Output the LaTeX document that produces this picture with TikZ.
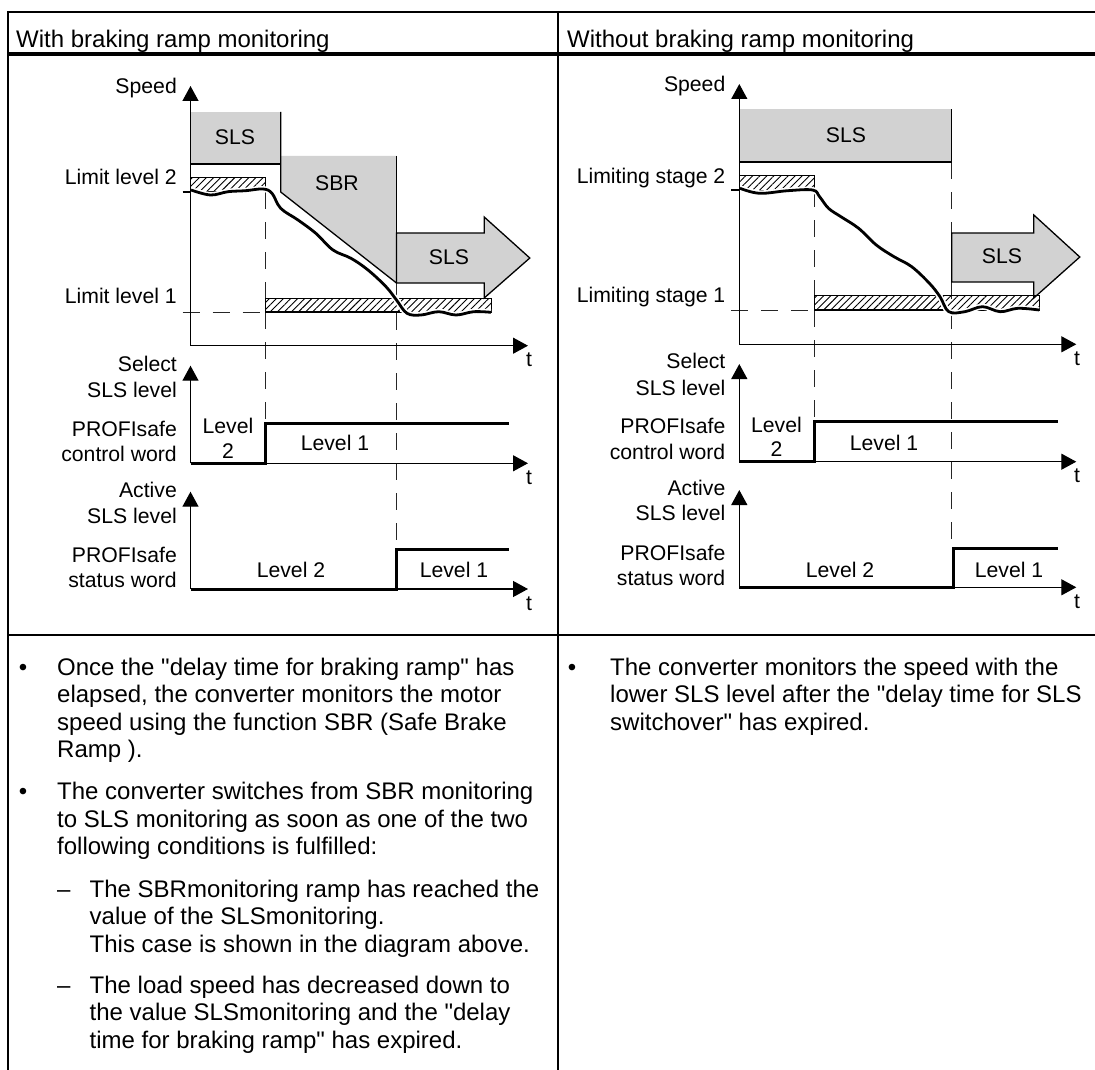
\documentclass[tikz,border=0pt]{standalone}
\usepackage{fontspec}
\setmainfont{Liberation Sans}[Ligatures=TeXOff]
\usetikzlibrary{arrows.meta,patterns.meta}

\newcommand\lblfont{\fontsize{21.2}{25}\selectfont}
\newcommand\txtfont{\fontsize{24}{27.6}\selectfont}

\begin{document}
\begin{tikzpicture}[
  x=1pt, y=-1pt,
  lbl/.style={font=\lblfont, inner sep=0pt, anchor=base east},
  lvl/.style={font=\lblfont, inner sep=0pt, anchor=base},
  zonetxt/.style={font=\lblfont, inner sep=0pt, anchor=center},
  body/.style={font=\txtfont, inner sep=0pt, anchor=base west},
  bullet/.style={font=\txtfont, inner sep=0pt, anchor=base},
  rule/.style={line width=2pt},
  axis/.style={line width=1.3pt, -{Triangle[length=15pt,width=16pt]}},
  signal/.style={line width=3pt},
  guide/.style={line width=0.9pt, dash pattern=on 17pt off 13pt, black!85},
  zone/.style={fill=gray!35},
  edge/.style={line width=1.3pt},
  hatch/.style={draw, line width=0.8pt,
                pattern={Lines[angle=45,distance=5pt,line width=0.9pt]}},
  halo/.style={white, line width=6pt},
  speed/.style={line width=2.8pt}
]
  \useasboundingbox (0,0) rectangle (1095,1070);

  % table
  \draw[rule] (7.5,12) -- (1095,12);
  \draw[line width=4.5pt] (7.5,54) -- (1095,54);
  \draw[rule] (7.5,635) -- (1095,635);
  \draw[rule] (7.5,11) -- (7.5,1070);
  \draw[rule] (558,11) -- (558,1070);
  \node[body] (hdL) at (16,47.5) {With braking ramp monitoring};
  \node[body] (hdR) at (567,47.5) {Without braking ramp monitoring};

  % ---------- left: with braking ramp monitoring ----------
  \draw[guide] (265.6,192) -- (265.6,423);
  \draw[guide] (396.5,283) -- (396.5,549);
  \fill[zone] (190.5,112) rectangle (280.7,164);
  \fill[zone] (280.7,156) -- (396.5,156) -- (396.5,283) -- (280.7,192) -- cycle;
  \draw[edge] (190.5,164) -- (280.7,164);
  \draw[edge] (280.7,112) -- (280.7,192) -- (396.5,283);
  \draw[edge] (396.5,156) -- (396.5,283);
  \draw[edge, zone] (396.5,233) -- (484.2,233) -- (484.2,217) -- (529.8,258)
    -- (484.2,298) -- (484.2,283) -- (396.5,283) -- cycle;
  \path[hatch] (190.5,177) rectangle (265.6,191);
  \path[hatch] (265.6,298) rectangle (491.2,312);
  \draw[edge] (182.5,192) -- (190.5,192);
  \draw[guide] (182.5,312) -- (265.6,312);
  \draw[line width=2.5pt] (265.6,312) -- (400,312);
  \draw[halo] plot[smooth, tension=0.6] coordinates {(191,190) (210.5,195) (228,191.7)
    (245.6,190.7) (263,189) (272,193.3) (280.7,208.3) (298,220) (315.8,233.3) (333,250)
    (351,258.3) (368,270) (386,286.7) (396.5,300) (407,313.3) (421,315) (438.6,311.7)
    (456,315) (473.7,311.7) (491,312.3)};
  \draw[speed] plot[smooth, tension=0.6] coordinates {(191,190) (210.5,195) (228,191.7)
    (245.6,190.7) (263,189) (272,193.3) (280.7,208.3) (298,220) (315.8,233.3) (333,250)
    (351,258.3) (368,270) (386,286.7) (396.5,300) (407,313.3) (421,315) (438.6,311.7)
    (456,315) (473.7,311.7) (491,312.3)};
  \draw[axis] (190.5,345.7) -- (190.5,86);
  \draw[axis] (190.5,345.7) -- (528,345.7);
  \draw[axis] (190.5,463.3) -- (190.5,365.7);
  \draw[axis] (190.5,463.3) -- (528,463.3);
  \draw[axis] (190.5,589) -- (190.5,491.7);
  \draw[axis] (190.5,589) -- (528,589);
  \draw[signal] (190.5,463.3) -- (265.6,463.3) -- (265.6,423.3) -- (508.8,423.3);
  \draw[signal] (190.5,589) -- (396.5,589) -- (396.5,549) -- (508.8,549);

  \node[zonetxt] (slsL) at (235,137) {SLS};
  \node[zonetxt] (sbrL) at (337,183) {SBR};
  \node[zonetxt] (arrL) at (449,257) {SLS};
  \node[lbl] (spdL) at (177,94) {Speed};
  \node[lbl] (lim2L) at (177,184) {Limit level 2};
  \node[lbl] (lim1L) at (177,303) {Limit level 1};
  \node[lbl] (selL) at (177,371) {Select};
  \node[lbl] (sel2L) at (177,397) {SLS level};
  \node[lbl] (ctlL) at (177,436) {PROFIsafe};
  \node[lbl] (ctl2L) at (177,461) {control word};
  \node[lbl] (actL) at (177,497) {Active};
  \node[lbl] (act2L) at (177,523) {SLS level};
  \node[lbl] (stsL) at (177,562) {PROFIsafe};
  \node[lbl] (sts2L) at (177,587) {status word};
  \node[lvl] (t1L) at (529,366.7) {t};
  \node[lvl] (t2L) at (529,484) {t};
  \node[lvl] (t3L) at (529,610) {t};
  \node[lvl] (c2L) at (228,433) {Level};
  \node[lvl] (c2bL) at (228,458) {2};
  \node[lvl] (c1L) at (335,450) {Level 1};
  \node[lvl] (s2L) at (291,577) {Level 2};
  \node[lvl] (s1L) at (454,577) {Level 1};

  % ---------- right: without braking ramp monitoring ----------
  \draw[guide] (814.3,190) -- (814.3,422);
  \draw[guide] (951.7,162) -- (951.7,548);
  \fill[zone] (739.3,109) rectangle (951.7,162);
  \draw[edge] (739.3,162) -- (951.7,162) -- (951.7,109);
  \draw[edge, zone] (951.7,233) -- (1033.8,233) -- (1033.8,215) -- (1079.8,257)
    -- (1033.8,298) -- (1033.8,282) -- (951.7,282) -- cycle;
  \path[hatch] (739.3,175) rectangle (814.3,190);
  \path[hatch] (814.3,295) rectangle (1039,310);
  \draw[edge] (731,190) -- (739.3,190);
  \draw[guide] (731,310) -- (814.3,310);
  \draw[line width=2.5pt] (814.3,310) -- (945,310);
  \draw[halo] plot[smooth, tension=0.6] coordinates {(740,188.3) (759.5,193.3)
    (787.8,190.7) (812.6,190) (819.6,196.7) (828.5,208.3) (840.9,216.7) (858.6,228.3)
    (876.3,245) (894,256.7) (911.7,266.7) (929.4,283.3) (940,296.7) (948.8,311.7)
    (964.8,311.7) (982.5,306.7) (1000.2,311.7) (1017.9,308.3) (1039,310)};
  \draw[speed] plot[smooth, tension=0.6] coordinates {(740,188.3) (759.5,193.3)
    (787.8,190.7) (812.6,190) (819.6,196.7) (828.5,208.3) (840.9,216.7) (858.6,228.3)
    (876.3,245) (894,256.7) (911.7,266.7) (929.4,283.3) (940,296.7) (948.8,311.7)
    (964.8,311.7) (982.5,306.7) (1000.2,311.7) (1017.9,308.3) (1039,310)};
  \draw[axis] (739.3,344.3) -- (739.3,84);
  \draw[axis] (739.3,344.3) -- (1076.3,344.3);
  \draw[axis] (739.3,461.7) -- (739.3,364);
  \draw[axis] (739.3,461.7) -- (1076.3,461.7);
  \draw[axis] (739.3,587.3) -- (739.3,490);
  \draw[axis] (739.3,587.3) -- (1076.3,587.3);
  \draw[signal] (739.3,461.7) -- (814.3,461.7) -- (814.3,421.7) -- (1057.5,421.7);
  \draw[signal] (739.3,587.3) -- (953.5,587.3) -- (953.5,548.3) -- (1057.5,548.3);

  \node[zonetxt] (slsR) at (846,135) {SLS};
  \node[zonetxt] (arrR) at (1002,256) {SLS};
  \node[lbl] (spdR) at (725.5,92) {Speed};
  \node[lbl] (lim2R) at (725.5,183) {Limiting stage 2};
  \node[lbl] (lim1R) at (725.5,302) {Limiting stage 1};
  \node[lbl] (selR) at (725.5,368) {Select};
  \node[lbl] (sel2R) at (725.5,395) {SLS level};
  \node[lbl] (ctlR) at (725.5,433) {PROFIsafe};
  \node[lbl] (ctl2R) at (725.5,459) {control word};
  \node[lbl] (actR) at (725.5,495) {Active};
  \node[lbl] (act2R) at (725.5,520) {SLS level};
  \node[lbl] (stsR) at (725.5,560) {PROFIsafe};
  \node[lbl] (sts2R) at (725.5,585) {status word};
  \node[lvl] (t1R) at (1077,365) {t};
  \node[lvl] (t2R) at (1077,482) {t};
  \node[lvl] (t3R) at (1077,608) {t};
  \node[lvl] (c2R) at (776.5,432.7) {Level};
  \node[lvl] (c2bR) at (776.5,456.7) {2};
  \node[lvl] (c1R) at (884,450) {Level 1};
  \node[lvl] (s2R) at (840,577) {Level 2};
  \node[lvl] (s1R) at (1009,577) {Level 1};

  % ---------- notes ----------
  \node[bullet] (b1L) at (23,675) {•};
  \node[body] (n1L) at (57,675) {Once the "delay time for braking ramp" has};
  \node[body] (n2L) at (57,702.6) {elapsed, the converter monitors the motor};
  \node[body] (n3L) at (57,730.2) {speed using the function SBR (Safe Brake};
  \node[body] (n4L) at (57,757.8) {Ramp ).};
  \node[bullet] (b2L) at (23,799.4) {•};
  \node[body] (n5L) at (57,799.4) {The converter switches from SBR monitoring};
  \node[body] (n6L) at (57,827) {to SLS monitoring as soon as one of the two};
  \node[body] (n7L) at (57,854.6) {following conditions is fulfilled:};
  \node[body] (d1L) at (57,897) {–};
  \node[body] (n8L) at (89.5,897) {The SBRmonitoring ramp has reached the};
  \node[body] (n9L) at (89.5,924.6) {value of the SLSmonitoring.};
  \node[body] (n10L) at (89.5,952.2) {This case is shown in the diagram above.};
  \node[body] (d2L) at (57,993) {–};
  \node[body] (n11L) at (89.5,993) {The load speed has decreased down to};
  \node[body] (n12L) at (89.5,1020.6) {the value SLSmonitoring and the "delay};
  \node[body] (n13L) at (89.5,1048.2) {time for braking ramp" has expired.};

  \node[bullet] (b1R) at (572,675) {•};
  \node[body] (n1R) at (610,675) {The converter monitors the speed with the};
  \node[body] (n2R) at (610,702.6) {lower SLS level after the "delay time for SLS};
  \node[body] (n3R) at (610,730.2) {switchover" has expired.};
\end{tikzpicture}
\end{document}
